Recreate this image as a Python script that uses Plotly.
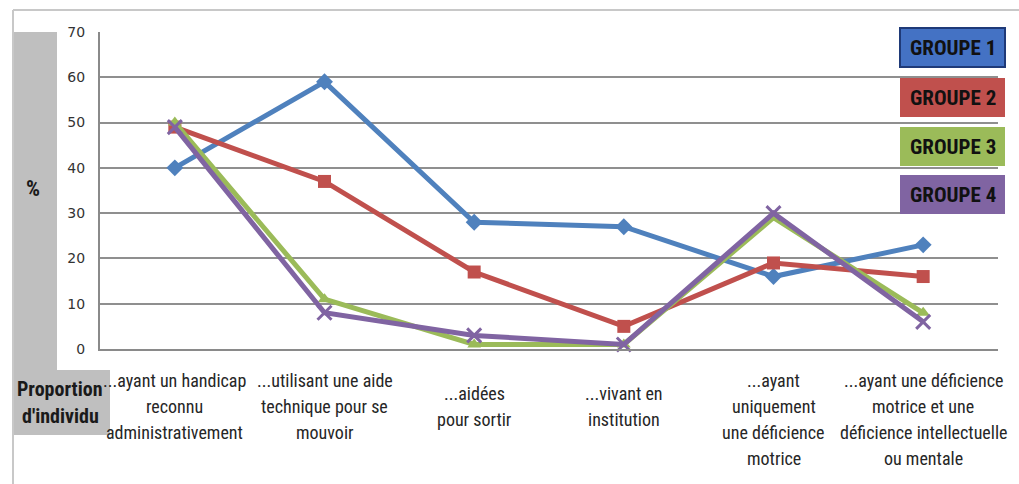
import plotly.graph_objects as go

# Proportion d'individu (%) par groupe
categories = [
    "...ayant un handicap|reconnu|administrativement",
    "...utilisant une aide|technique pour se|mouvoir",
    "...aidées|pour sortir",
    "...vivant en|institution",
    "...ayant|uniquement|une déficience|motrice",
    "...ayant une déficience|motrice et une|déficience intellectuelle|ou mentale",
]
groupe_1 = [40, 59, 28, 27, 16, 23]
groupe_2 = [49, 37, 17, 5, 19, 16]
groupe_3 = [50, 11, 1, 1, 29, 8]
groupe_4 = [49, 8, 3, 1, 30, 6]
series_names = ["GROUPE 1", "GROUPE 2", "GROUPE 3", "GROUPE 4"]
y_ticks = [0, 10, 20, 30, 40, 50, 60, 70]

W, H = 1019, 484
ML, MR, MT, MB = 100, 21, 32, 135
PW, PH = W - ML - MR, H - MT - MB

FONT = "Liberation Sans Narrow, Roboto Condensed, Arial Narrow, sans-serif"
colors = ["#4F81BD", "#C0504D", "#9BBB59", "#8064A2"]
symbols = ["diamond", "square", "triangle-up", "x-thin"]
sizes = [13, 13, 12, 14]


def px_x(px):
    return (px - ML) / PW


def px_y(py):
    return (H - MB - py) / PH


def label(text, x, y, size, color, xref="paper"):
    return dict(text=text, xref=xref, yref="paper", x=x, y=y, xanchor="center",
                yanchor="middle", showarrow=False,
                font=dict(family=FONT, size=size, color=color))


x_idx = list(range(len(categories)))
fig = go.Figure()
for name, vals, col, sym, sz in zip(series_names, [groupe_1, groupe_2, groupe_3, groupe_4],
                                    colors, symbols, sizes):
    marker = dict(symbol=sym, size=sz, color=col)
    if sym == "x-thin":
        marker["line"] = dict(color=col, width=3)
    fig.add_trace(go.Scatter(
        x=x_idx, y=vals, mode="lines+markers", name=name,
        line=dict(color=col, width=5), marker=marker, showlegend=False,
        cliponaxis=False,
    ))

shapes = []
annotations = []

# outer frame (top and left edges)
shapes.append(dict(type="line", xref="paper", yref="paper", x0=px_x(13), x1=px_x(1019),
                   y0=px_y(10), y1=px_y(10), line=dict(color="#c8c8c8", width=2), layer="below"))
shapes.append(dict(type="line", xref="paper", yref="paper", x0=px_x(13), x1=px_x(13),
                   y0=px_y(10), y1=px_y(484), line=dict(color="#c8c8c8", width=2), layer="below"))

# grey title boxes
shapes.append(dict(type="rect", xref="paper", yref="paper", x0=px_x(14), x1=px_x(57),
                   y0=px_y(370), y1=px_y(32), fillcolor="#bfbfbf", line=dict(width=0), layer="below"))
shapes.append(dict(type="rect", xref="paper", yref="paper", x0=px_x(14), x1=px_x(110),
                   y0=px_y(435), y1=px_y(370), fillcolor="#bfbfbf", line=dict(width=0), layer="below"))
annotations.append(label("<b>%</b>", px_x(33), px_y(188), 22, "#1a1a1a"))
for i, t in enumerate(["Proportion", "d'individu"]):
    annotations.append(label("<b>" + t + "</b>", px_x(60), px_y(389 + 27 * i), 20, "#1a1a1a"))

# category labels, centred as a block under each point
LINE_H = 26
for i, cat in enumerate(categories):
    lines = cat.split("|")
    top = 406 - min(len(lines), 3) * LINE_H / 2 + LINE_H / 2
    for j, ln in enumerate(lines):
        annotations.append(label(ln, i, px_y(top + j * LINE_H), 18, "#262626", xref="x"))

# legend boxes
box_tops = [28, 78, 127, 175]
for name, col, top in zip(series_names, colors, box_tops):
    fill = "#4472C4" if name == "GROUPE 1" else col
    border = dict(color="#1F3A78", width=2) if name == "GROUPE 1" else dict(width=0)
    shapes.append(dict(type="rect", xref="paper", yref="paper", x0=px_x(900), x1=px_x(1005),
                       y0=px_y(top + 39), y1=px_y(top), fillcolor=fill, line=border, layer="above"))
    annotations.append(label("<b>" + name + "</b>", px_x(953), px_y(top + 20), 21, "#111111"))

fig.update_layout(
    width=W, height=H,
    margin=dict(l=ML, r=MR, t=MT, b=MB),
    paper_bgcolor="white", plot_bgcolor="white",
    shapes=shapes, annotations=annotations,
    xaxis=dict(range=[-0.5, len(categories) - 0.5], showticklabels=False, showgrid=False,
               zeroline=False, showline=True, linecolor="#8a8a8a", linewidth=2,
               fixedrange=True),
    yaxis=dict(range=[0, 70], tickvals=y_ticks, showgrid=True, gridcolor="#8f8f8f",
               gridwidth=2, zeroline=False, showline=True, linecolor="#8a8a8a", linewidth=2,
               tickfont=dict(family="DejaVu Sans", size=14, color="#333333"),
               ticklabelstandoff=10, fixedrange=True),
    showlegend=False,
)

fig.write_html("out.html")
